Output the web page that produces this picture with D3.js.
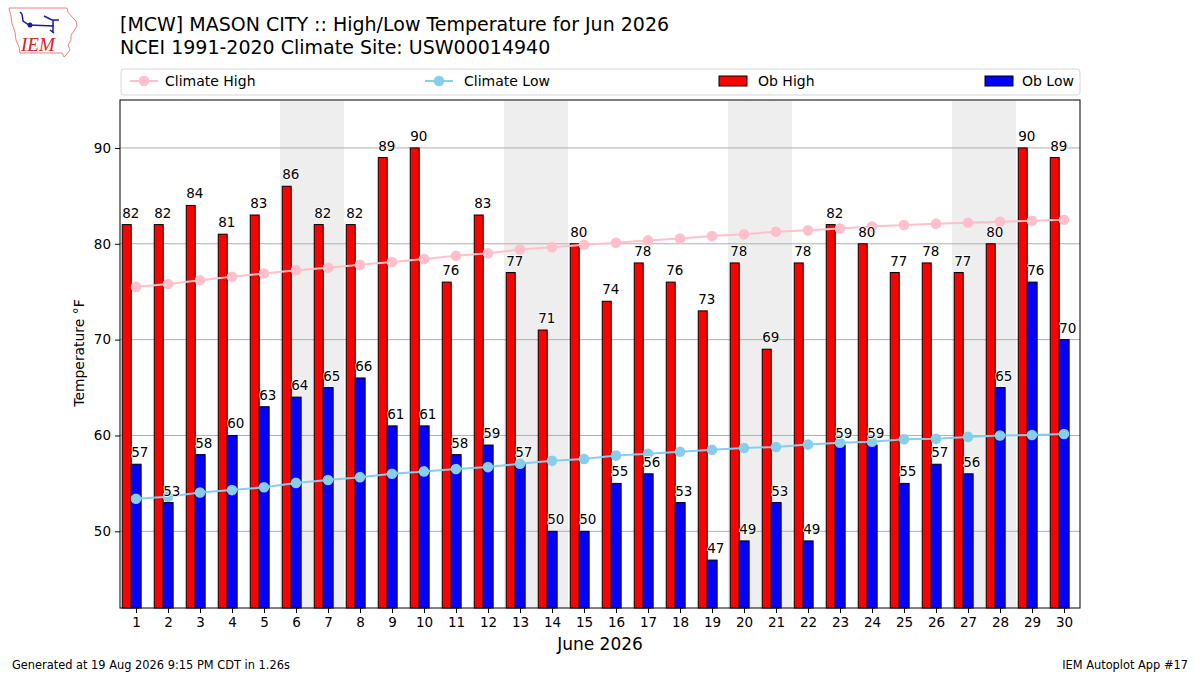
<!DOCTYPE html>
<html lang="en">
<head>
    <meta charset="UTF-8">
    <title>MCW High/Low Temperature Jun 2026</title>
    <script src="https://d3js.org/d3.v7.min.js"></script>
    <style>
        body { margin: 0; background: #fff; }
        svg { font-family: "DejaVu Sans", sans-serif; }
    </style>
</head>
<body>
    <svg id="chart" width="1200" height="675"></svg>

    <script>
        // Data
        const days = d3.range(1, 31);
        const obHigh = [82, 82, 84, 81, 83, 86, 82, 82, 89, 90, 76, 83, 77, 71, 80,
                        74, 78, 76, 73, 78, 69, 78, 82, 80, 77, 78, 77, 80, 90, 89];
        const obLow = [57, 53, 58, 60, 63, 64, 65, 66, 61, 61, 58, 59, 57, 50, 50,
                       55, 56, 53, 47, 49, 53, 49, 59, 59, 55, 57, 56, 65, 76, 70];
        const climateHigh = [75.5, 75.8, 76.2, 76.55, 76.9, 77.25, 77.5, 77.8, 78.1, 78.4,
                             78.75, 79.0, 79.4, 79.65, 79.9, 80.1, 80.35, 80.55, 80.8, 81.0,
                             81.25, 81.4, 81.6, 81.8, 81.95, 82.1, 82.2, 82.3, 82.4, 82.5];
        const climateLow = [53.4, 53.6, 54.05, 54.3, 54.6, 55.05, 55.35, 55.65, 56.0, 56.25,
                            56.5, 56.7, 57.05, 57.35, 57.55, 57.9, 58.1, 58.3, 58.5, 58.7,
                            58.8, 59.05, 59.25, 59.35, 59.6, 59.65, 59.85, 60.0, 60.05, 60.15];
        const weekendDays = [6, 7, 13, 14, 20, 21, 27, 28];
        const yTicks = [50, 60, 70, 80, 90];

        const svg = d3.select("#chart");
        const plotLeft = 120, plotRight = 1080, plotTop = 100, plotBottom = 608;

        const x = d3.scaleLinear().domain([0.5, 30.5]).range([plotLeft, plotRight]);
        const y = d3.scaleLinear().domain([42, 95]).range([plotBottom, plotTop]);

        // Logo (rough Iowa outline + IEM)
        const logo = svg.append("g");
        logo.append("path")
            .attr("d", "M9,8 L67,8 L68,12 L72,17 L76,21 L77,26 L74,31 L71,35 L71,40 L68,45 L70,50 L67,54 L64,57 L62,53 L20,53 L19,47 L16,40 L15,32 L12,24 L11,16 Z")
            .attr("fill", "none").attr("stroke", "#f08080").attr("stroke-width", 1);
        logo.append("path")
            .attr("d", "M20,12 L22,14 M22,14 L23,21 L29,25 L54,26 M44,16 L52,20 L59,20 M53,20 L53,33 M50,30 L54,33")
            .attr("fill", "none").attr("stroke", "#1a1aaa").attr("stroke-width", 1.5);
        logo.append("circle").attr("cx", 30).attr("cy", 25).attr("r", 2.5).attr("fill", "#1a1aaa");
        logo.append("text").attr("x", 21).attr("y", 51)
            .attr("font-family", "Liberation Serif, serif").attr("font-style", "italic")
            .attr("font-size", 19).attr("fill", "#e02020").text("IEM");

        // Titles
        svg.append("text").attr("x", 120).attr("y", 31).attr("font-size", 19)
            .text("[MCW] MASON CITY :: High/Low Temperature for Jun 2026");
        svg.append("text").attr("x", 120).attr("y", 54).attr("font-size", 19)
            .text("NCEI 1991-2020 Climate Site: USW00014940");

        // Weekend shading
        svg.append("g").selectAll("rect")
            .data(weekendDays)
            .enter().append("rect")
            .attr("x", d => x(d - 0.5))
            .attr("width", d => x(d + 0.5) - x(d - 0.5))
            .attr("y", plotTop)
            .attr("height", plotBottom - plotTop)
            .attr("fill", "#eeeeee");

        // Gridlines
        svg.append("g").selectAll("line")
            .data(yTicks)
            .enter().append("line")
            .attr("x1", plotLeft).attr("x2", plotRight)
            .attr("y1", d => y(d)).attr("y2", d => y(d))
            .attr("stroke", "#b0b0b0").attr("stroke-width", 1);

        // Bars
        const bars = svg.append("g");
        bars.selectAll("rect.high")
            .data(days)
            .enter().append("rect")
            .attr("class", "high")
            .attr("x", d => x(d - 0.43))
            .attr("width", d => x(d - 0.15) - x(d - 0.43))
            .attr("y", (d, i) => y(obHigh[i]))
            .attr("height", (d, i) => plotBottom - y(obHigh[i]))
            .attr("fill", "#ff0000").attr("stroke", "#000").attr("stroke-width", 1);
        bars.selectAll("rect.low")
            .data(days)
            .enter().append("rect")
            .attr("class", "low")
            .attr("x", d => x(d - 0.15))
            .attr("width", d => x(d + 0.16) - x(d - 0.15))
            .attr("y", (d, i) => y(obLow[i]))
            .attr("height", (d, i) => plotBottom - y(obLow[i]))
            .attr("fill", "#0000ff").attr("stroke", "#000").attr("stroke-width", 1);

        // Climate lines
        function drawClimate(values, color) {
            const g = svg.append("g");
            g.append("path")
                .datum(values)
                .attr("d", d3.line().x((d, i) => x(days[i])).y(d => y(d)))
                .attr("fill", "none").attr("stroke", color).attr("stroke-width", 2);
            g.selectAll("circle")
                .data(values)
                .enter().append("circle")
                .attr("cx", (d, i) => x(days[i]))
                .attr("cy", d => y(d))
                .attr("r", 5.3)
                .attr("fill", color);
        }
        drawClimate(climateHigh, "#ffc0cb");
        drawClimate(climateLow, "#87ceeb");

        // Value labels, left aligned on each bar's left edge
        const labels = svg.append("g").attr("font-size", 13.5)
            .attr("stroke", "#fff").attr("stroke-width", 1.5).attr("paint-order", "stroke");
        labels.selectAll("text.high")
            .data(days)
            .enter().append("text")
            .attr("x", d => x(d - 0.43))
            .attr("y", (d, i) => y(obHigh[i]) - 7)
            .text((d, i) => obHigh[i]);
        labels.selectAll("text.low")
            .data(days)
            .enter().append("text")
            .attr("x", d => x(d - 0.15))
            .attr("y", (d, i) => y(obLow[i]) - 7)
            .text((d, i) => obLow[i]);

        // Axes
        const xAxis = svg.append("g")
            .attr("transform", `translate(0,${plotBottom})`)
            .call(d3.axisBottom(x).tickValues(days).tickFormat(d3.format("d")).tickSize(5).tickPadding(4));
        const yAxis = svg.append("g")
            .attr("transform", `translate(${plotLeft},0)`)
            .call(d3.axisLeft(y).tickValues(yTicks).tickSize(5).tickPadding(4));
        [xAxis, yAxis].forEach(a => {
            a.selectAll("text").attr("font-size", 13.5).attr("font-family", "DejaVu Sans").attr("fill", "#000");
            a.select(".domain").remove();
        });

        // Frame
        svg.append("rect")
            .attr("x", plotLeft).attr("y", plotTop)
            .attr("width", plotRight - plotLeft).attr("height", plotBottom - plotTop)
            .attr("fill", "none").attr("stroke", "#000").attr("stroke-width", 1);

        // Axis titles
        svg.append("text").attr("x", 600).attr("y", 650).attr("text-anchor", "middle")
            .attr("font-size", 17).text("June 2026");
        svg.append("text").attr("transform", "translate(84,353) rotate(-90)")
            .attr("text-anchor", "middle").attr("font-size", 13.9).text("Temperature °F");

        // Legend
        const legend = svg.append("g").attr("font-size", 14);
        legend.append("rect")
            .attr("x", 121).attr("y", 69).attr("width", 959).attr("height", 26).attr("rx", 3)
            .attr("fill", "#fff").attr("stroke", "#d6d6d6");
        const lineItems = [
            { label: "Climate High", color: "#ffc0cb", x0: 130, tx: 165 },
            { label: "Climate Low", color: "#87ceeb", x0: 425, tx: 464 }
        ];
        lineItems.forEach(it => {
            legend.append("line").attr("x1", it.x0).attr("x2", it.x0 + 28)
                .attr("y1", 81).attr("y2", 81).attr("stroke", it.color).attr("stroke-width", 2);
            legend.append("circle").attr("cx", it.x0 + 14).attr("cy", 81).attr("r", 5.3).attr("fill", it.color);
            legend.append("text").attr("x", it.tx).attr("y", 86).text(it.label);
        });
        const barItems = [
            { label: "Ob High", color: "#ff0000", x0: 719, tx: 758 },
            { label: "Ob Low", color: "#0000ff", x0: 985, tx: 1022 }
        ];
        barItems.forEach(it => {
            legend.append("rect").attr("x", it.x0).attr("y", 76).attr("width", 28).attr("height", 10)
                .attr("fill", it.color).attr("stroke", "#000").attr("stroke-width", 1);
            legend.append("text").attr("x", it.tx).attr("y", 86).text(it.label);
        });

        // Footer
        svg.append("text").attr("x", 12).attr("y", 669).attr("font-size", 11.4)
            .text("Generated at 19 Aug 2026 9:15 PM CDT in 1.26s");
        svg.append("text").attr("x", 1188).attr("y", 669).attr("font-size", 11.4)
            .attr("text-anchor", "end").text("IEM Autoplot App #17");
    </script>
</body>
</html>
